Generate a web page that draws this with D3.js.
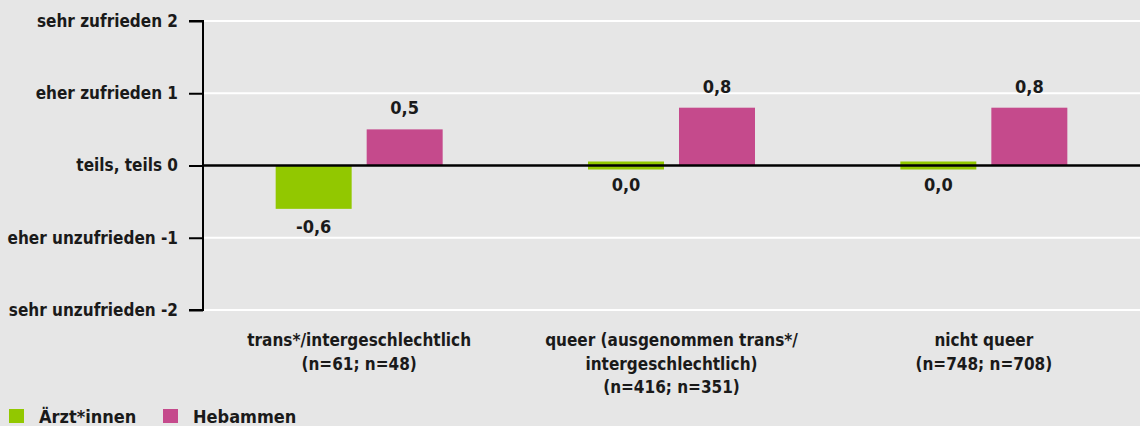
<!DOCTYPE html>
<html>
<head>
<meta charset="utf-8">
<script src="https://cdn.jsdelivr.net/npm/d3@7"></script>
<style>
  html, body { margin: 0; padding: 0; background: #e6e6e6; }
  svg { display: block; }
  text { font-family: "Liberation Sans Narrow", "DejaVu Sans Condensed", "Roboto", sans-serif; font-weight: bold; fill: #1a1a1a; }
</style>
</head>
<body>
<svg id="chart" width="1140" height="426"></svg>
<script>
// categories, one array of lines per group
var categories = [
  ["trans*/intergeschlechtlich", "(n=61; n=48)"],
  ["queer (ausgenommen trans*/", "intergeschlechtlich)", "(n=416; n=351)"],
  ["nicht queer", "(n=748; n=708)"]
];
var seriesNames = ["Ärzt*innen", "Hebammen"];
var seriesColors = ["#92c800", "#c54a8c"];
var aerztValues = [-0.6, 0.0, 0.0];
var hebammenValues = [0.5, 0.8, 0.8];
var yTickValues = [2, 1, 0, -1, -2];
var yTickLabels = ["sehr zufrieden 2", "eher zufrieden 1", "teils, teils 0", "eher unzufrieden -1", "sehr unzufrieden -2"];

var svg = d3.select("#chart");
var W = 1140;
var plotLeft = 203, plotTop = 21, plotBottom = 310;

var y = d3.scaleLinear().domain([-2, 2]).range([plotBottom, plotTop]);
var x0 = d3.scaleBand().domain(d3.range(categories.length)).range([plotLeft, W]).padding(0);
var x1 = d3.scaleBand().domain(d3.range(seriesNames.length)).range([0, 167]).paddingInner(0.165);

// white gridlines
svg.append("g").selectAll("line")
  .data(yTickValues.filter(function (d) { return d !== 0; }))
  .enter().append("line")
  .attr("x1", plotLeft).attr("x2", W)
  .attr("y1", function (d) { return y(d); }).attr("y2", function (d) { return y(d); })
  .style("stroke", "#fff").style("stroke-width", 2);

// y axis
var yAxis = d3.axisLeft(y).tickValues(yTickValues).tickSize(14).tickPadding(11)
  .tickFormat(function (d, i) { return yTickLabels[i]; });
var ga = svg.append("g").attr("transform", "translate(" + plotLeft + ",0)").call(yAxis);
ga.select(".domain").attr("d", "M-14," + y(2) + "H0V" + y(-2) + "H-14").style("stroke", "#000").style("stroke-width", 2);
ga.selectAll(".tick line").style("stroke", "#000").style("stroke-width", 2);
ga.attr("font-family", null).attr("font-size", null);
ga.selectAll(".tick text").style("font-size", "17px").attr("fill", "#1a1a1a");

// bars
var rows = categories.map(function (c, i) {
  return [aerztValues[i], hebammenValues[i]];
});
var groups = svg.append("g").selectAll("g")
  .data(rows).enter().append("g")
  .attr("transform", function (d, i) { return "translate(" + (x0(i) + (x0.bandwidth() - 167) / 2) + ",0)"; });

var stub = 4; // half height of the stub drawn for zero values
groups.selectAll("rect")
  .data(function (d) { return d; })
  .enter().append("rect")
  .attr("x", function (d, j) { return x1(j); })
  .attr("width", x1.bandwidth())
  .attr("y", function (d) { return d === 0 ? y(0) - stub : Math.min(y(d), y(0)); })
  .attr("height", function (d) { return d === 0 ? stub * 2 : Math.abs(y(d) - y(0)); })
  .style("fill", function (d, j) { return seriesColors[j]; });

groups.selectAll("text.val")
  .data(function (d) { return d; })
  .enter().append("text")
  .attr("class", "val")
  .attr("x", function (d, j) { return x1(j) + x1.bandwidth() / 2; })
  .attr("y", function (d) { return d > 0 ? y(d) - 15 : (d === 0 ? y(0) + 25 : y(d) + 24); })
  .attr("text-anchor", "middle")
  .style("font-size", "18px")
  .text(function (d) { return d3.format(".1f")(d).replace(".", ",").replace("−", "-"); });

// zero line
svg.append("line")
  .attr("x1", plotLeft).attr("x2", W)
  .attr("y1", y(0)).attr("y2", y(0))
  .style("stroke", "#000").style("stroke-width", 2.5);

// category labels
var cl = svg.append("g").selectAll("text")
  .data(categories).enter().append("text")
  .attr("x", function (d, i) { return x0(i) + x0.bandwidth() / 2; })
  .attr("y", 346)
  .attr("text-anchor", "middle")
  .style("font-size", "17px");
cl.selectAll("tspan")
  .data(function (d) { return d; })
  .enter().append("tspan")
  .attr("x", function () { return d3.select(this.parentNode).attr("x"); })
  .attr("dy", function (d, i) { return i === 0 ? 0 : 23.5; })
  .text(function (d) { return d; });

// legend
var legendX = [9, 163];
var lg = svg.append("g").selectAll("g")
  .data(seriesNames).enter().append("g")
  .attr("transform", function (d, i) { return "translate(" + legendX[i] + ",409)"; });
lg.append("rect").attr("width", 15).attr("height", 14)
  .style("fill", function (d, i) { return seriesColors[i]; });
lg.append("text").attr("x", 30).attr("y", 14).style("font-size", "18px")
  .text(function (d) { return d; });
</script>
</body>
</html>
